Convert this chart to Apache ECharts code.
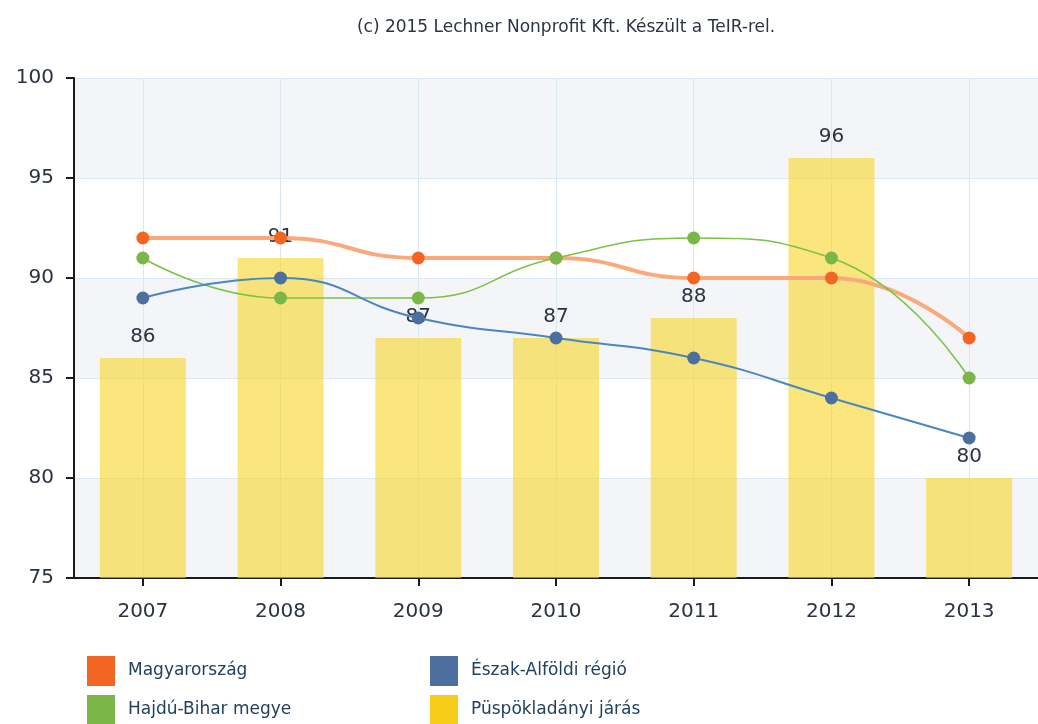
<!DOCTYPE html>
<html>
<head>
<meta charset="utf-8">
<script src="https://cdn.jsdelivr.net/npm/echarts@6/dist/echarts.min.js"></script>
<style>
  html, body { margin: 0; padding: 0; background: #ffffff; }
  #chart { width: 1038px; height: 724px; }
</style>
</head>
<body>
<div id="chart"></div>
<script>
// Years on the category axis
const years = ['2007', '2008', '2009', '2010', '2011', '2012', '2013'];

// Index values per area
const hungary = [92, 92, 91, 91, 90, 90, 87];      // Magyarország
const region = [89, 90, 88, 87, 86, 84, 82];       // Észak-Alföldi régió
const county = [91, 89, 89, 91, 92, 91, 85];       // Hajdú-Bihar megye
const district = [86, 91, 87, 87, 88, 96, 80];     // Püspökladányi járás

const yTicks = { min: 75, max: 100, interval: 5 };

const FONT = 'DejaVu Sans';
const chart = echarts.init(document.getElementById('chart'), null, { renderer: 'canvas' });

const legendText = { fontFamily: FONT, fontSize: 17, color: '#23405f', padding: [0, 0, 0, 8] };

chart.setOption({
  animation: false,
  backgroundColor: '#ffffff',
  textStyle: { fontFamily: FONT },
  title: {
    text: '(c) 2015 Lechner Nonprofit Kft. Készült a TeIR-rel.',
    left: 561,
    textAlign: 'center',
    top: 14,
    textStyle: { fontFamily: FONT, fontSize: 17, fontWeight: 'normal', color: '#2b3440' }
  },
  grid: { left: 74, top: 78, width: 977, bottom: 146, containLabel: false },
  legend: [
    {
      left: 82, top: 651, height: 73, orient: 'vertical', icon: 'rect',
      itemWidth: 28, itemHeight: 30, itemGap: 9,
      textStyle: legendText,
      data: [
        { name: 'Magyarország', itemStyle: { color: '#f26522' } },
        { name: 'Hajdú-Bihar megye', itemStyle: { color: '#7ab648' } }
      ]
    },
    {
      left: 425, top: 651, height: 73, orient: 'vertical', icon: 'rect',
      itemWidth: 28, itemHeight: 30, itemGap: 9,
      textStyle: legendText,
      data: [
        { name: 'Észak-Alföldi régió', itemStyle: { color: '#4d6fa0' } },
        { name: 'Püspökladányi járás', itemStyle: { color: '#f6ce1a' } }
      ]
    }
  ],
  xAxis: {
    type: 'category',
    data: years,
    boundaryGap: true,
    axisLine: { lineStyle: { color: '#1a1a1a', width: 2 } },
    axisTick: { show: true, alignWithLabel: true, length: 8, lineStyle: { color: '#1a1a1a', width: 2 } },
    axisLabel: { fontFamily: FONT, fontSize: 20, color: '#2a3340', margin: 24 },
    splitLine: { show: true, alignWithLabel: true, lineStyle: { color: '#dbe7f1', width: 1 } }
  },
  yAxis: {
    type: 'value',
    min: yTicks.min, max: yTicks.max, interval: yTicks.interval,
    axisLine: { show: true, lineStyle: { color: '#1a1a1a', width: 2 } },
    axisTick: { show: true, length: 8, lineStyle: { color: '#1a1a1a', width: 2 } },
    axisLabel: { fontFamily: FONT, fontSize: 20, color: '#2a3340', margin: 20 },
    splitLine: { show: true, lineStyle: { color: '#dbe7f1', width: 1 } },
    splitArea: { show: true, areaStyle: { color: ['#f4f5f8', '#ffffff'] } }
  },
  series: [
    {
      name: 'Püspökladányi járás',
      type: 'bar',
      data: district,
      barWidth: 86,
      itemStyle: { color: 'rgba(247, 215, 45, 0.62)' },
      label: {
        show: true, position: 'top', distance: 11,
        fontFamily: FONT, fontSize: 20, color: '#2a3340'
      },
      z: 1
    },
    {
      name: 'Magyarország',
      type: 'line',
      data: hungary,
      smooth: true,
      symbol: 'circle', symbolSize: 13,
      lineStyle: { color: '#f9a97c', width: 4 },
      itemStyle: { color: '#f26522' },
      z: 3
    },
    {
      name: 'Hajdú-Bihar megye',
      type: 'line',
      data: county,
      smooth: true,
      symbol: 'circle', symbolSize: 13,
      lineStyle: { color: '#7cc243', width: 1.5 },
      itemStyle: { color: '#7ab648' },
      z: 3
    },
    {
      name: 'Észak-Alföldi régió',
      type: 'line',
      data: region,
      smooth: true,
      symbol: 'circle', symbolSize: 13,
      lineStyle: { color: '#4a86c0', width: 2 },
      itemStyle: { color: '#4d6fa0' },
      z: 3
    }
  ]
});
</script>
</body>
</html>
